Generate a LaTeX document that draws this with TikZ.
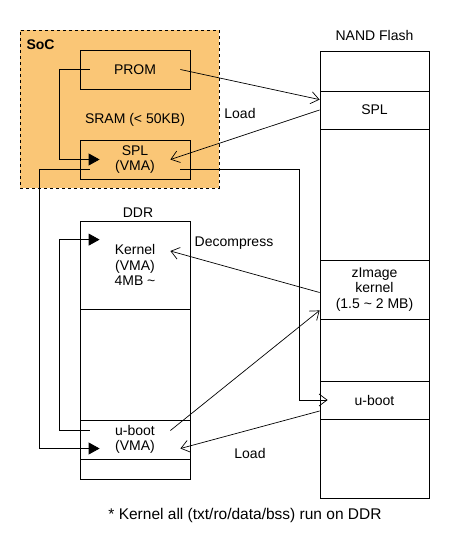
\documentclass[tikz,border=0pt]{standalone}
\usepackage{fontspec}
\setmainfont{Liberation Sans}
\usetikzlibrary{arrows.meta}
\definecolor{socfill}{RGB}{250,198,118}

\tikzset{
  blk/.style={draw, line width=0.8pt, minimum width=110pt, inner sep=0pt, align=center},
  load/.style={line width=0.7pt, -{Straight Barb[length=8pt,width=12pt]}},
  jump/.style={line width=0.8pt, -{Triangle[length=11pt,width=12pt]}},
}

\begin{document}
\begin{tikzpicture}[x=1pt, y=-1pt, font=\fontsize{14}{15.5}\selectfont]
  \useasboundingbox[fill=white] (0,0) rectangle (450,550);

  % Le SoC
  \node[draw, dashed, line width=0.8pt, fill=socfill, minimum width=199pt, minimum height=158pt] (soc) at (119.5,109) {};
  \node[anchor=west, font=\fontsize{14}{15.5}\selectfont\bfseries] (soclbl) at (23,45) {SoC};
  \node[blk, minimum height=39pt] (prom) at (135,69.5) {PROM};
  \node (sram) at (135,120) {SRAM (< 50KB)};
  \node[blk, minimum height=39pt] (spl) at (135,159.5) {SPL\\(VMA)};

  % La DDR
  \node (ddrlbl) at (138,213) {DDR};
  \node[blk, minimum height=88pt] (dker) at (135,265) {Kernel\\(VMA)\\4MB \textasciitilde};
  \node[blk, minimum height=111pt] (dmid) at (135,364.5) {};
  \node[blk, minimum height=39pt] (dub) at (135,439.5) {u-boot\\(VMA)};
  \node[blk, minimum height=20pt] (dbot) at (135,469) {};

  % La NAND
  \node (nandlbl) at (374.5,35) {NAND Flash};
  \node[blk, minimum width=109pt, minimum height=40pt] (ntop) at (374.5,71) {};
  \node[blk, minimum width=109pt, minimum height=38pt] (nspl) at (374.5,110) {SPL};
  \node[blk, minimum width=109pt, minimum height=131pt] (nfree) at (374.5,194.5) {};
  \node[blk, minimum width=109pt, minimum height=59pt] (nzi) at (374.5,289.5) {zImage\\kernel\\(1.5 \textasciitilde{} 2 MB)};
  \node[blk, minimum width=109pt, minimum height=62pt] (nfree2) at (374.5,350) {};
  \node[blk, minimum width=109pt, minimum height=38pt] (nub) at (374.5,400) {u-boot};
  \node[blk, minimum width=109pt, minimum height=79pt] (nbot) at (374.5,458.5) {};

  % Chargements
  \draw[load] ([xshift=-10pt]prom.east) -- ([yshift=-9pt]nspl.north west);
  \draw[load] (nspl.west) -- ([xshift=-20pt]spl.east);
  \node (load1) at (240,113) {Load};
  \draw[load] ([yshift=-3pt]nzi.west) -- ([xshift=-20pt,yshift=14pt]dker.east);
  \node (decomp) at (234,243) {Decompress};
  \draw[load] ([xshift=-20pt,yshift=9pt]dub.east) -- ([yshift=9pt]nzi.south west);
  \draw[load] ([yshift=-11pt]nub.west) -- ([xshift=-10pt,yshift=-9pt]dub.east);
  \node (load2) at (250,453) {Load};

  % Sauts
  \draw[jump] ([xshift=10pt]prom.west) -- ++(-30,0) |- ([xshift=20pt]spl.west);
  \draw[jump] ([xshift=10pt,yshift=-10pt]spl.west) -- ++(-50,0) |- ([xshift=20pt,yshift=-9pt]dub.west);
  \draw[jump] ([xshift=10pt,yshift=9pt]dub.west) -- ++(-30,0) |- ([xshift=20pt,yshift=-19pt]dker.north west);
  \draw[load] ([xshift=-10pt,yshift=-10pt]spl.east) -| ([xshift=-20pt]nub.west) -- ([xshift=8pt]nub.west);

  % Note
  \node[font=\fontsize{15.5}{17}\selectfont] (note) at (245,515) {* Kernel all (txt/ro/data/bss) run on DDR};
\end{tikzpicture}
\end{document}
